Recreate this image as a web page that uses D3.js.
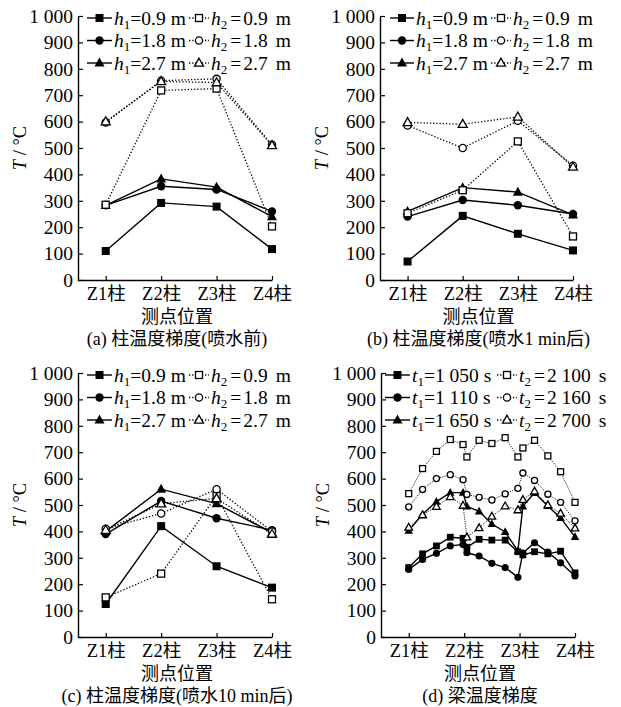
<!DOCTYPE html>
<html>
<head>
<meta charset="utf-8">
<script src="https://cdn.jsdelivr.net/npm/d3@7"></script>
<style>
  body { margin: 0; background: #fff; }
  svg text { fill: #000; }
</style>
</head>
<body>
<div id="chart"></div>
<script>
const width = 621;
const height = 707;
const serif = '"Liberation Serif", "DejaVu Serif", serif';
const serifCJK = '"Liberation Serif", "Noto Sans CJK SC", serif';

// categories
const columns = ['Z1柱', 'Z2柱', 'Z3柱', 'Z4柱'];
const colPos = [1, 2, 3, 4];
const yTickValues = d3.range(0, 1001, 100);

// beam measuring points (in column units)
const beamPos = [1, 1.25, 1.5, 1.75, 1.98, 2.05, 2.27, 2.5, 2.74, 2.97, 3.06, 3.27, 3.51, 3.74, 4];

// (a) before spraying: h1 solid, h2 dotted (0.9 / 1.8 / 2.7 m)
const aH1 = [[110, 292, 278, 117], [283, 355, 343, 260], [283, 383, 352, 240]];
const aH2 = [[285, 718, 725, 203], [597, 755, 762, 512], [600, 752, 748, 510]];

// (b) 1 min after spraying
const bH1 = [[70, 243, 175, 112], [240, 303, 283, 250], [260, 350, 333, 247]];
const bH2 = [[253, 340, 525, 165], [585, 500, 603, 433], [597, 590, 618, 428]];

// (c) 10 min after spraying
const cH1 = [[125, 420, 268, 187], [390, 515, 450, 405], [400, 560, 505, 395]];
const cH2 = [[150, 240, 535, 143], [410, 468, 560, 400], [405, 505, 525, 390]];

// (d) beam: t1 solid, t2 dotted
const dT1 = [
  [263, 315, 345, 378, 374, 340, 370, 367, 367, 323, 311, 323, 315, 325, 243],
  [256, 294, 317, 345, 350, 319, 307, 279, 263, 226, 318, 357, 322, 281, 231],
  [403, 465, 513, 547, 547, 495, 476, 428, 398, 326, 495, 546, 496, 451, 379]
];
const dT2 = [
  [543, 638, 703, 748, 729, 682, 745, 733, 755, 682, 716, 745, 686, 626, 510],
  [493, 559, 600, 615, 596, 540, 529, 519, 542, 563, 621, 593, 541, 510, 440],
  [415, 462, 494, 531, 498, 378, 413, 457, 496, 481, 520, 552, 500, 468, 412]
];

// legend labels
const hValues = ['0.9', '1.8', '2.7'];
const t1Values = ['1 050', '1 110', '1 650'];
const t2Values = ['2 100', '2 160', '2 700'];
const captions = ['(a) 柱温度梯度(喷水前)', '(b) 柱温度梯度(喷水1 min后)', '(c) 柱温度梯度(喷水10 min后)', '(d) 梁温度梯度'];
const xTitle = '测点位置';

const shapes = ['square', 'circle', 'triangle'];

const svg = d3.select('#chart').append('svg')
  .attr('width', width)
  .attr('height', height);

const panels = [
  { left: 78, right: 272, top: 16, bottom: 280, xs: colPos, solid: aH1, dotted: aH2, sym: 'h', sol: hValues, dot: hValues, unit: 'm', caption: captions[0], leg: [9, 34, 36, 111, 131, 133] },
  { left: 380, right: 573, top: 16, bottom: 280, xs: colPos, solid: bH1, dotted: bH2, sym: 'h', sol: hValues, dot: hValues, unit: 'm', caption: captions[1], leg: [10, 34, 36, 111, 131, 133] },
  { left: 78, right: 272, top: 373, bottom: 637, xs: colPos, solid: cH1, dotted: cH2, sym: 'h', sol: hValues, dot: hValues, unit: 'm', caption: captions[2], leg: [9, 34, 36, 111, 131, 133] },
  { left: 381, right: 575, top: 373, bottom: 637, xs: beamPos, solid: dT1, dotted: dT2, sym: 't', sol: t1Values, dot: t2Values, unit: 's', caption: captions[3], leg: [4, 29, 31, 116, 136, 138], small: true }
];

panels.forEach(drawPanel);

function drawPanel(p) {
  const g = svg.append('g');
  const x = d3.scaleLinear().domain([0.5, 4]).range([p.left, p.right]);
  const y = d3.scaleLinear().domain([0, 1000]).range([p.bottom, p.top]);
  const k = p.small ? 0.85 : 1;

  // axes
  const yAxis = d3.axisLeft(y)
    .tickValues(yTickValues)
    .tickSizeInner(-5)
    .tickSizeOuter(0)
    .tickPadding(5)
    .tickFormat(d => d >= 1000 ? '1 000' : String(d));
  const ya = g.append('g').attr('transform', translate(p.left, 0)).call(yAxis);

  const xAxis = d3.axisBottom(x)
    .tickValues(colPos)
    .tickSizeInner(-4)
    .tickSizeOuter(0)
    .tickPadding(7)
    .tickFormat((d, i) => columns[i]);
  const xa = g.append('g').attr('transform', translate(0, p.bottom)).call(xAxis);

  [ya, xa].forEach(a => {
    a.attr('font-family', serifCJK);
    a.select('.domain').attr('stroke', '#000').attr('stroke-width', 1.4);
    a.selectAll('.tick line').attr('stroke', '#000').attr('stroke-width', 1.2);
    a.selectAll('.tick text').style('font-family', serifCJK);
  });
  ya.selectAll('.tick text').attr('font-size', 19.5);
  xa.selectAll('.tick text').attr('font-size', 18.5);

  // axis titles
  g.append('text')
    .attr('x', (p.left + p.right) / 2 + 2)
    .attr('y', p.bottom + 43)
    .attr('text-anchor', 'middle')
    .style('font-family', serifCJK)
    .attr('font-size', 18)
    .text(xTitle);

  g.append('text')
    .attr('x', (p.left + p.right) / 2 + 2)
    .attr('y', p.bottom + 65)
    .attr('text-anchor', 'middle')
    .style('font-family', serifCJK)
    .attr('font-size', 18)
    .text(p.caption);

  const yt = g.append('text')
    .attr('transform', translate(p.left - 52, (p.top + p.bottom) / 2) + ' rotate(-90)')
    .attr('text-anchor', 'middle')
    .style('font-family', serif)
    .attr('font-size', 18.5);
  yt.append('tspan').attr('font-style', 'italic').text('T');
  yt.append('tspan').text(' / °C');

  const line = d3.line()
    .x((d, i) => x(p.xs[i]))
    .y(d => y(d));

  // solid series
  p.solid.forEach((vals, s) => {
    g.append('path')
      .attr('d', line(vals))
      .attr('fill', 'none')
      .attr('stroke', '#000')
      .attr('stroke-width', 1.4);
    vals.forEach((v, i) => marker(g, shapes[s], false, x(p.xs[i]), y(v), k));
  });

  // dotted series
  p.dotted.forEach((vals, s) => {
    g.append('path')
      .attr('d', line(vals))
      .attr('fill', 'none')
      .attr('stroke', '#000')
      .attr('stroke-width', p.small ? 1 : 1.3)
      .attr('stroke-dasharray', p.small ? '1,1.3' : '1.3,1.9');
    vals.forEach((v, i) => marker(g, shapes[s], true, x(p.xs[i]), y(v), k));
  });

  // legend
  const [l0, l1, lt, r0, r1, rt] = p.leg;
  shapes.forEach((shape, s) => {
    const cy = y(1000) + 2 + s * 22.5;
    g.append('line')
      .attr('x1', p.left + l0).attr('x2', p.left + l1)
      .attr('y1', cy).attr('y2', cy)
      .attr('stroke', '#000').attr('stroke-width', 1.4);
    marker(g, shape, false, p.left + (l0 + l1) / 2, cy, 1);
    legendText(g, p.left + lt, cy + 6.5, p.sym, '1', p.sol[s], p.unit, [0, 0, 5]);

    g.append('line')
      .attr('x1', p.left + r0).attr('x2', p.left + r1)
      .attr('y1', cy).attr('y2', cy)
      .attr('stroke', '#000').attr('stroke-width', 1.3)
      .attr('stroke-dasharray', '1.3,1.9');
    marker(g, shape, true, p.left + (r0 + r1) / 2, cy, 1);
    legendText(g, p.left + rt, cy + 6.5, p.sym, '2', p.dot[s], p.unit, [3, 2, 8]);
  });
}

// gaps: [before "=", after "=", before unit]
function legendText(g, x, y, sym, sub, val, unit, gaps) {
  const t = g.append('text').attr('x', x).attr('y', y)
    .style('font-family', serif).attr('font-size', 19.5);
  t.append('tspan').attr('font-style', 'italic').text(sym);
  t.append('tspan').attr('font-size', 13).attr('dy', 4).text(sub);
  t.append('tspan').attr('dy', -4).attr('dx', gaps[0]).text('=');
  t.append('tspan').attr('dx', gaps[1]).text(val);
  t.append('tspan').attr('dx', gaps[2]).text(unit);
}

function marker(g, shape, open, cx, cy, k) {
  const fill = open ? '#fff' : '#000';
  const sw = open ? 1.3 : 0;
  if (shape === 'square') {
    const s = (open ? 7 : 8) * k;
    g.append('rect')
      .attr('x', cx - s / 2).attr('y', cy - s / 2)
      .attr('width', s).attr('height', s)
      .attr('fill', fill).attr('stroke', '#000').attr('stroke-width', sw);
  } else if (shape === 'circle') {
    g.append('circle')
      .attr('cx', cx).attr('cy', cy)
      .attr('r', (open ? 3.6 : 4.2) * k)
      .attr('fill', fill).attr('stroke', '#000').attr('stroke-width', sw);
  } else {
    const w = (open ? 9 : 10) * k;
    const h = (open ? 8 : 9) * k;
    g.append('path')
      .attr('d', 'M' + cx + ',' + (cy - h * 0.6) + 'L' + (cx + w / 2) + ',' + (cy + h * 0.4) + 'L' + (cx - w / 2) + ',' + (cy + h * 0.4) + 'Z')
      .attr('fill', fill).attr('stroke', '#000').attr('stroke-width', sw)
      .attr('stroke-linejoin', 'miter');
  }
}

// Utilities

function translate(x, y) {
  return 'translate(' + x + ',' + y + ')';
}
</script>
</body>
</html>
